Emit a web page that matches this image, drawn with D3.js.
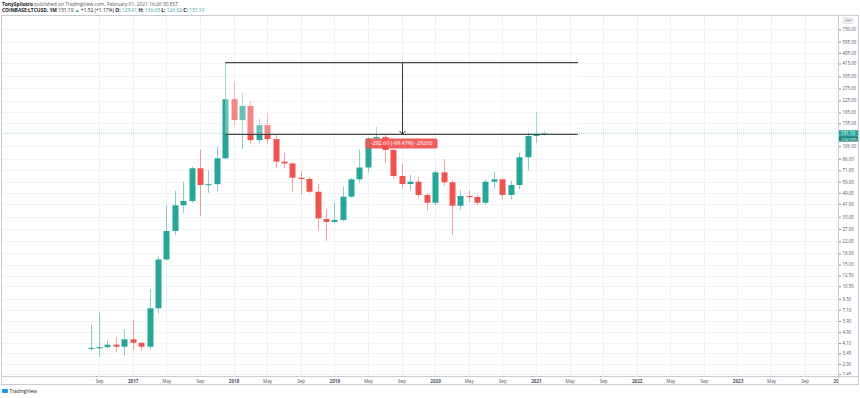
<!DOCTYPE html>
<html>
<head>
<meta charset="utf-8">
<script src="https://cdn.jsdelivr.net/npm/d3@7"></script>
<style>
  body { margin: 0; background: #fff; }
  svg { display: block; font-family: 'Open Sans', 'Liberation Sans', sans-serif; }
</style>
</head>
<body>
<script>
// monthly LTC/USD candles, Coinbase
const months = ['2016-08','2016-09','2016-10','2016-11','2016-12',
  '2017-01','2017-02','2017-03','2017-04','2017-05','2017-06','2017-07','2017-08','2017-09','2017-10','2017-11','2017-12',
  '2018-01','2018-02','2018-03','2018-04','2018-05','2018-06','2018-07','2018-08','2018-09','2018-10','2018-11','2018-12',
  '2019-01','2019-02','2019-03','2019-04','2019-05','2019-06','2019-07','2019-08','2019-09','2019-10','2019-11','2019-12',
  '2020-01','2020-02','2020-03','2020-04','2020-05','2020-06','2020-07','2020-08','2020-09','2020-10','2020-11','2020-12',
  '2021-01','2021-02']
const opens = [3.74, 3.76, 3.83, 3.99, 3.86,
  4.36, 4.12, 3.86, 7.28, 16.3, 26.1, 39.9, 42.8, 73.5, 55.8, 56.5, 86.7,
  230, 163, 206, 117, 150, 119, 82, 79.6, 62.9, 61.6, 49.9, 31.8,
  30.3, 31.3, 46.0, 61.3, 74.5, 120, 123, 99.5, 64.7, 56.7, 58.9, 47.3,
  41.6, 68.8, 58.3, 39.6, 46.5, 45.8, 41.6, 58.9, 61.3, 47.3, 55.8, 88.2,
  125.4, 129.61]
const highs = [5.55, 6.77, 4.26, 4.51, 5.14,
  6.00, 4.15, 10.0, 17.1, 39.5, 50.7, 58.9, 75.5, 99.5, 70.7, 105, 421.2,
  307, 256, 221, 168, 184, 129.5, 95, 81, 70, 64, 56.7, 37.3,
  41.4, 54.2, 62.5, 100.6, 122, 146, 131, 101, 78.5, 65.8, 64, 48.5,
  71, 85.3, 61, 51.4, 50.7, 47.5, 61, 69.5, 62, 60, 95.1, 137,
  187, 136.63]
const lows = [3.61, 3.27, 3.74, 3.52, 3.33,
  3.66, 3.61, 3.69, 6.70, 16.0, 24.4, 35.3, 41.4, 33.6, 49.1, 50.7, 86.0,
  148, 101, 110, 110, 110, 73.5, 73.5, 49.9, 47.8, 49.0, 26.5, 22.2,
  29.6, 30.5, 45.0, 58.0, 69, 113, 79.8, 62, 52.8, 51.4, 44.8, 36.5,
  40, 55, 24.5, 37, 42, 40, 40.5, 52.2, 44, 44, 52, 70.7,
  112, 126.02]
const closes = [3.78, 3.83, 3.99, 3.86, 4.36,
  4.12, 3.86, 7.28, 16.3, 26.1, 39.9, 42.8, 73.5, 55.8, 56.5, 86.7, 230,
  163, 206, 117, 150, 119, 82, 79.6, 62.9, 61.6, 49.9, 32.1, 30.3,
  31.3, 46.0, 61.3, 74.5, 120, 123, 99.5, 64.7, 56.7, 58.9, 47.3, 41.6,
  68.8, 58.3, 39.6, 46.5, 45.8, 41.6, 58.9, 61.3, 47.3, 55.8, 88.2, 125.4,
  129.6, 131.10]

const xTickMonths = ['2016-09','2017-01','2017-05','2017-09','2018-01','2018-05','2018-09','2019-01','2019-05','2019-09',
  '2020-01','2020-05','2020-09','2021-01','2021-05','2021-09','2022-01','2022-05','2022-09','2023-01','2023-05','2023-09','2024-01']
const xTickLabels = ['Sep','2017','May','Sep','2018','May','Sep','2019','May','Sep',
  '2020','May','Sep','2021','May','Sep','2022','May','Sep','2023','May','Sep','2024']
const yTicks = [2.45, 2.90, 3.45, 4.10, 4.90, 5.90, 7.10, 8.50, 10.50, 12.50, 15.00, 18.00, 22.00, 27.00, 33.00,
  41.00, 49.00, 59.00, 71.00, 86.00, 106.00, 155.00, 185.00, 225.00, 275.00, 335.00, 415.00, 495.00, 595.00, 730.00]

// price range drawing
const rangeHigh = 421.2
const rangeLow = 128.6
const rangeFrom = '2017-12'
const rangeTo = '2021-06'
const rangeArrowAt = '2019-09'
const rangeText = '-292.60 (-69.47%) -29260'
const lastPrice = 131.10

const w = 860
const h = 398
const plotL = 1
const plotR = 838
const plotT = 15
const plotB = 376

const green = '#26a69a'
const red = '#ef5350'

const mIdx = m => {
  const [y, mo] = m.split('-').map(Number)
  return (y - 2017) * 12 + (mo - 1)
}

const data = months.map((m, i) => ({ i: mIdx(m), o: opens[i], h: highs[i], l: lows[i], c: closes[i] }))

const xScale = d3.scaleLinear()
  .domain([0, 48])
  .range([132.7, 535.9])
const yScale = d3.scaleLog()
  .domain([2.9, 730])
  .range([364, 29.3])

const svg = d3.select('body')
  .append('svg')
  .attr('width', w)
  .attr('height', h)

const defs = svg.append('defs')
defs.append('clipPath').attr('id', 'plot')
  .append('rect')
  .attr('x', plotL).attr('y', plotT)
  .attr('width', plotR - plotL).attr('height', plotB - plotT)
defs.append('clipPath').attr('id', 'yax')
  .append('rect')
  .attr('x', plotR).attr('y', plotT)
  .attr('width', w - plotR).attr('height', plotB - plotT - 1)
defs.append('clipPath').attr('id', 'xax')
  .append('rect')
  .attr('x', plotL).attr('y', plotB)
  .attr('width', plotR - plotL).attr('height', 10)

// grid
const grid = svg.append('g').attr('clip-path', 'url(#plot)')
grid.selectAll('.vg')
  .data(xTickMonths)
  .enter()
  .append('line')
  .attr('x1', d => Math.round(xScale(mIdx(d))) + 0.5)
  .attr('x2', d => Math.round(xScale(mIdx(d))) + 0.5)
  .attr('y1', plotT)
  .attr('y2', plotB)
  .attr('stroke', '#eef1f6')
grid.selectAll('.hg')
  .data(yTicks)
  .enter()
  .append('line')
  .attr('x1', plotL)
  .attr('x2', plotR)
  .attr('y1', d => Math.round(yScale(d)) + 0.5)
  .attr('y2', d => Math.round(yScale(d)) + 0.5)
  .attr('stroke', '#f0f3f7')

// last price line
grid.append('line')
  .attr('x1', plotL)
  .attr('x2', plotR)
  .attr('y1', yScale(lastPrice))
  .attr('y2', yScale(lastPrice))
  .attr('stroke', green)
  .attr('stroke-opacity', 0.45)
  .attr('stroke-dasharray', '1,1')

// candles
const candles = svg.append('g').attr('clip-path', 'url(#plot)')
const bw = 6
candles.selectAll('.wick')
  .data(data)
  .enter()
  .append('line')
  .attr('x1', d => Math.round(xScale(d.i)) + 0.5)
  .attr('x2', d => Math.round(xScale(d.i)) + 0.5)
  .attr('y1', d => yScale(d.h))
  .attr('y2', d => yScale(d.l))
  .attr('stroke', d => d.c >= d.o ? green : red)
  .attr('stroke-opacity', 0.55)
candles.selectAll('.body')
  .data(data)
  .enter()
  .append('rect')
  .attr('x', d => Math.round(xScale(d.i)) + 0.5 - bw / 2)
  .attr('y', d => yScale(Math.max(d.o, d.c)))
  .attr('width', bw)
  .attr('height', d => Math.max(1, yScale(Math.min(d.o, d.c)) - yScale(Math.max(d.o, d.c))))
  .attr('fill', d => d.c >= d.o ? green : red)

// price range tool
const rx1 = xScale(mIdx(rangeFrom))
const rx2 = xScale(mIdx(rangeTo))
const ryTop = yScale(rangeHigh)
const ryBot = yScale(rangeLow)
const ax = xScale(mIdx(rangeArrowAt)) + 1
svg.append('rect')
  .attr('x', rx1)
  .attr('y', ryTop)
  .attr('width', rx2 - rx1)
  .attr('height', ryBot - ryTop)
  .attr('fill', '#fff')
  .attr('fill-opacity', 0.3)
svg.selectAll('.rl')
  .data([ryTop, ryBot])
  .enter()
  .append('line')
  .attr('x1', rx1)
  .attr('x2', rx2)
  .attr('y1', d => d)
  .attr('y2', d => d)
  .attr('stroke', '#4a4a4a')
  .attr('stroke-width', 1.2)
svg.append('line')
  .attr('x1', ax).attr('x2', ax)
  .attr('y1', ryTop).attr('y2', ryBot)
  .attr('stroke', '#333')
  .attr('stroke-width', 1)
svg.append('path')
  .attr('d', `M${ax - 3},${ryBot - 3.5} L${ax},${ryBot} L${ax + 3},${ryBot - 3.5}`)
  .attr('fill', 'none')
  .attr('stroke', '#333')
  .attr('stroke-width', 1)

const lbl = svg.append('g').attr('transform', `translate(${ax}, ${ryBot + 9})`)
lbl.append('rect')
  .attr('x', -37)
  .attr('y', -5)
  .attr('width', 72)
  .attr('height', 10)
  .attr('rx', 1.5)
  .attr('fill', '#f0514e')
  .attr('fill-opacity', 0.92)
lbl.append('text')
  .attr('x', -1)
  .attr('y', 2)
  .attr('text-anchor', 'middle')
  .attr('font-size', 5.4)
  .attr('fill', '#fff')
  .text(rangeText)

// frame
svg.append('rect')
  .attr('x', plotL + 0.5)
  .attr('y', plotT + 0.5)
  .attr('width', w - 3)
  .attr('height', plotB - plotT + 8)
  .attr('fill', 'none')
  .attr('stroke', '#c8cbd1')
svg.append('line')
  .attr('x1', plotR + 0.5).attr('x2', plotR + 0.5)
  .attr('y1', plotT).attr('y2', plotB + 9)
  .attr('stroke', '#c8cbd1')
svg.append('line')
  .attr('x1', plotL).attr('x2', w - 2)
  .attr('y1', plotB + 0.5).attr('y2', plotB + 0.5)
  .attr('stroke', '#c8cbd1')

// axes
const xAxis = d3.axisBottom(xScale)
  .tickValues(xTickMonths.map(mIdx))
  .tickFormat((d, i) => xTickLabels[i])
  .tickSize(0)
  .tickPadding(3.5)
const gx = svg.append('g')
  .attr('clip-path', 'url(#xax)')
  .append('g')
  .attr('id', 'x-axis')
  .attr('transform', `translate(0, ${plotB})`)
  .call(xAxis)
gx.select('.domain').remove()
gx.selectAll('text')
  .attr('font-size', 4.6)
  .attr('font-family', "'Open Sans', sans-serif")
  .attr('fill', '#50535e')
  .attr('font-weight', (d, i) => /^\d{4}$/.test(xTickLabels[i]) ? 700 : 400)

const yAxis = d3.axisRight(yScale)
  .tickValues(yTicks)
  .tickFormat(d3.format('.2f'))
  .tickSize(2)
  .tickPadding(1.5)
const gy = svg.append('g')
  .attr('clip-path', 'url(#yax)')
  .append('g')
  .attr('id', 'y-axis')
  .attr('transform', `translate(${plotR + 1}, 0)`)
  .call(yAxis)
gy.select('.domain').remove()
gy.selectAll('line').attr('stroke', '#8a8d96')
gy.selectAll('text')
  .attr('font-size', 4.4)
  .attr('font-family', "'Open Sans', sans-serif")
  .attr('fill', '#50535e')

// right axis markers
const yl = yScale(lastPrice)
svg.append('rect')
  .attr('x', plotR + 1).attr('y', yl - 3)
  .attr('width', 19).attr('height', 5.6)
  .attr('fill', green)
svg.append('text')
  .attr('x', plotR + 3).attr('y', yl + 1.7)
  .attr('font-size', 4.4).attr('fill', '#fff')
  .text('131.10')
svg.append('rect')
  .attr('x', plotR + 1).attr('y', yl + 2.8)
  .attr('width', 19).attr('height', 5.6)
  .attr('fill', '#1e8a80')
svg.append('text')
  .attr('x', plotR + 3).attr('y', yl + 7.4)
  .attr('font-size', 4.2).attr('fill', '#fff')
  .text('27d 07h')
svg.append('rect')
  .attr('x', 843).attr('y', 18)
  .attr('width', 10).attr('height', 5.4)
  .attr('rx', 1)
  .attr('fill', '#fff')
  .attr('stroke', '#b8bbc2')
  .attr('stroke-width', 0.5)
svg.append('text')
  .attr('x', 848).attr('y', 22)
  .attr('text-anchor', 'middle')
  .attr('font-size', 3.6).attr('fill', '#50535e')
  .text('USD')

// header
const h1 = svg.append('text').attr('x', 2).attr('y', 6).attr('font-size', 4.9).attr('fill', '#50535e')
h1.append('tspan').attr('font-weight', 700).attr('fill', '#131722').text('TonySpilotro')
h1.append('tspan').text(' published on TradingView.com, February 01, 2021 16:26:30 EST')
const h2 = svg.append('text').attr('x', 2).attr('y', 12.3).attr('font-size', 4.9).attr('fill', '#131722')
h2.append('tspan').attr('font-weight', 700).text('COINBASE:LTCUSD, 1M ')
h2.append('tspan').text('131.10 ')
h2.append('tspan').attr('fill', green).text('▲ ')
h2.append('tspan').text('+1.52 (+1.17%) ')
const ohlc = [['O:', '129.61'], ['H:', '136.63'], ['L:', '126.02'], ['C:', '131.10']]
ohlc.forEach(([k, v]) => {
  h2.append('tspan').attr('font-weight', 700).text(k + ' ')
  h2.append('tspan').attr('fill', green).text(v + ' ')
})

// logo
const logo = svg.append('g').attr('transform', 'translate(2, 389)')
logo.append('rect').attr('width', 6).attr('height', 4).attr('rx', 0.8).attr('fill', '#2196f3')
logo.append('text').attr('x', 7.5).attr('y', 3.7).attr('font-size', 4.8).attr('fill', '#131722').text('TradingView')
</script>
</body>
</html>
